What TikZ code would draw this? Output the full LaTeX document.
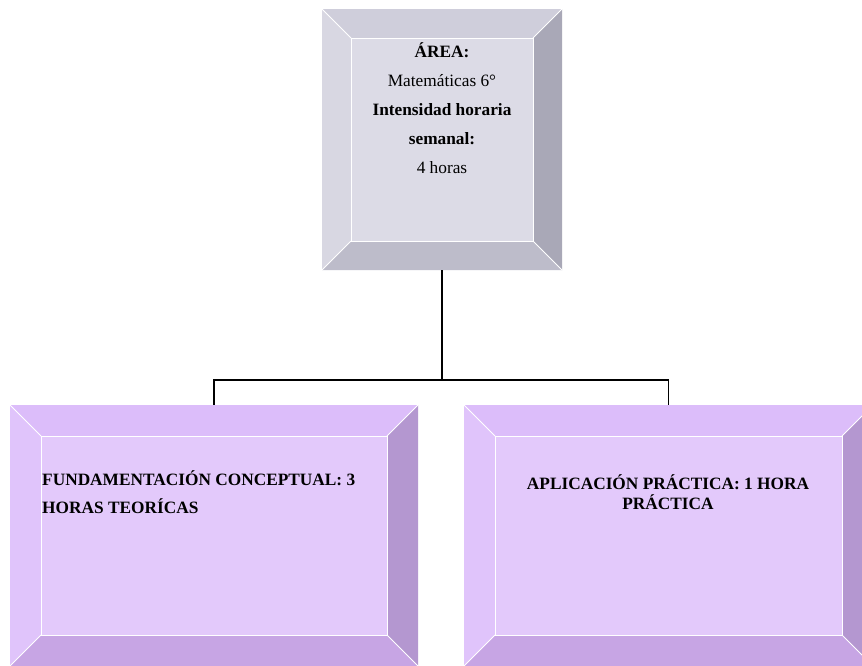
\documentclass[tikz,border=0pt]{standalone}
\usepackage{fontspec}
\setmainfont{Liberation Serif}
\usetikzlibrary{calc}

% gray panel palette
\definecolor{gFace}{HTML}{DCDBE6}
\definecolor{gTop}{HTML}{CFCEDB}
\definecolor{gLeft}{HTML}{D8D7E2}
\definecolor{gRight}{HTML}{A9A8B7}
\definecolor{gBottom}{HTML}{BDBCCA}
% lilac panel palette
\definecolor{pFace}{HTML}{E3C9FB}
\definecolor{pTop}{HTML}{DCBDFA}
\definecolor{pLeft}{HTML}{E0C4FB}
\definecolor{pRight}{HTML}{B497D0}
\definecolor{pBottom}{HTML}{C7A5E4}

\tikzset{
  panel/.style={draw=none, inner sep=0pt, outer sep=0pt, rectangle},
  bevelline/.style={white, line width=1pt},
  wire/.style={black, line width=1.2pt},
  boxtext/.style={inner sep=0pt, font=\fontsize{17.3}{29}\selectfont}
}

% #1 panel node, #2 bevel width (pt), #3 palette prefix
\newcommand{\bevelframe}[3]{%
  \coordinate (#1-o1) at (#1.north west);
  \coordinate (#1-o2) at (#1.north east);
  \coordinate (#1-o3) at (#1.south east);
  \coordinate (#1-o4) at (#1.south west);
  \coordinate (#1-i1) at ($(#1.north west)+(#2pt,-#2pt)$);
  \coordinate (#1-i2) at ($(#1.north east)+(-#2pt,-#2pt)$);
  \coordinate (#1-i3) at ($(#1.south east)+(-#2pt,#2pt)$);
  \coordinate (#1-i4) at ($(#1.south west)+(#2pt,#2pt)$);
  \fill[#3Top]    (#1-o1) -- (#1-o2) -- (#1-i2) -- (#1-i1) -- cycle;
  \fill[#3Right]  (#1-o2) -- (#1-o3) -- (#1-i3) -- (#1-i2) -- cycle;
  \fill[#3Bottom] (#1-o3) -- (#1-o4) -- (#1-i4) -- (#1-i3) -- cycle;
  \fill[#3Left]   (#1-o4) -- (#1-o1) -- (#1-i1) -- (#1-i4) -- cycle;
  \fill[#3Face]   (#1-i1) rectangle (#1-i3);
  \draw[bevelline] (#1-i1) rectangle (#1-i3);
  \draw[bevelline] (#1-o1) -- (#1-i1) (#1-o2) -- (#1-i2)
                   (#1-o3) -- (#1-i3) (#1-o4) -- (#1-i4);
}

\begin{document}
\begin{tikzpicture}[x=1pt, y=-1pt]
  \useasboundingbox (0,0) rectangle (862,665);
  \fill[white] (0,0) rectangle (862,665);
  \clip (0,0) rectangle (862,665);

  % panels
  \node[panel, minimum width=240pt, minimum height=261pt] (area) at (442,139.5) {};
  \node[panel, minimum width=408pt, minimum height=261pt] (fund) at (214,535.5) {};
  \node[panel, minimum width=409pt, minimum height=261pt] (apl)  at (668.5,535.5) {};

  \bevelframe{area}{29}{g}
  \bevelframe{fund}{31}{p}
  \bevelframe{apl}{31}{p}

  % connectors
  \coordinate (split) at (442,380);
  \draw[wire] (area.south) -- (split);
  \draw[wire] (split) -| (fund.north);
  \draw[wire] (split) -| (apl.north);

  % texts
  \node[boxtext, anchor=north, align=center] (areatext) at (442,42)
    {\textbf{ÁREA:}\\ Matemáticas 6°\\ \textbf{Intensidad horaria}\\ \textbf{semanal:}\\ 4 horas};
  \node[boxtext, anchor=north west, align=left, font=\fontsize{17.3}{28}\selectfont\bfseries] (fundtext) at (42,470)
    {FUNDAMENTACIÓN CONCEPTUAL: 3\\ HORAS TEORÍCAS};
  \node[boxtext, anchor=north, align=center, font=\fontsize{17.3}{20}\selectfont\bfseries] (apltext) at (668,474)
    {APLICACIÓN PRÁCTICA: 1 HORA\\ PRÁCTICA};
\end{tikzpicture}
\end{document}
